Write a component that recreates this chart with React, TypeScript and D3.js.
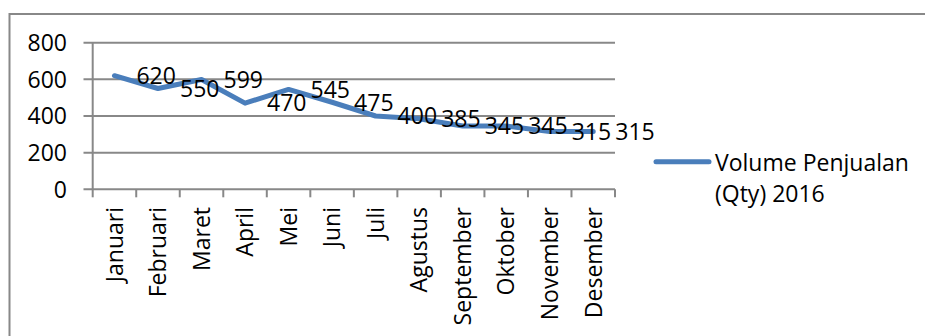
import React from "react";
import * as d3 from "d3";

const months = ["Januari","Februari","Maret","April","Mei","Juni","Juli","Agustus","September","Oktober","November","Desember"];
const values = [620, 550, 599, 470, 545, 475, 400, 385, 345, 345, 315, 315];
const yTicks = [0, 200, 400, 600, 800];
const seriesName = ["Volume Penjualan", "(Qty) 2016"];

const W = 925, H = 336;
const FONT = "'Open Sans', sans-serif";
const FS = 23;
const GRID = "#888888";
const BLUE = "#4A7EBB";

export default function App() {
  const x = d3.scaleBand<string>().domain(months).range([92.7, 615]);
  const y = d3.scaleLinear().domain([0, 800]).range([189.3, 42.7]);
  const cx = (m: string) => (x(m) as number) + x.bandwidth() / 2;
  const line = d3.line<number>().x((_, i) => cx(months[i])).y((v) => y(v));
  const boundaries = months.map((m) => x(m) as number).concat([615]);

  return (
    <svg width={W} height={H} style={{ position: "absolute", left: 0, top: 0, background: "#fff" }} fontFamily={FONT}>
      <rect x={0} y={0} width={W} height={H} fill="#fff" />
      <rect x={9.5} y={14} width={W} height={H} fill="none" stroke={GRID} strokeWidth={2} />
      {yTicks.map((t) => (
        <g key={t}>
          <line x1={83.5} x2={615} y1={y(t)} y2={y(t)} stroke={GRID} strokeWidth={2} />
          <text x={67} y={y(t)} dy="0.36em" textAnchor="end" fontSize={FS} fill="#000">{t}</text>
        </g>
      ))}
      <line x1={92.7} x2={92.7} y1={y(800)} y2={y(0)} stroke={GRID} strokeWidth={2} />
      {boundaries.map((b, i) => (
        <line key={i} x1={b} x2={b} y1={y(0)} y2={y(0) + 8} stroke={GRID} strokeWidth={2} />
      ))}
      {months.map((m) => (
        <text key={m} transform={`translate(${cx(m)},${207}) rotate(-90)`} dy="0.36em" textAnchor="end" fontSize={FS} fill="#000">{m}</text>
      ))}
      <path d={line(values) || ""} fill="none" stroke={BLUE} strokeWidth={5} strokeLinejoin="round" strokeLinecap="round" />
      {values.map((v, i) => (
        <text key={i} x={cx(months[i]) + 22} y={y(v)} dy="0.36em" fontSize={FS} fill="#000">{v}</text>
      ))}
      <line x1={656} x2={709} y1={161.7} y2={161.7} stroke={BLUE} strokeWidth={5} strokeLinecap="round" />
      <text x={715} y={170.7} fontSize={FS} fill="#000">{seriesName[0]}</text>
      <text x={715} y={201.7} fontSize={FS} fill="#000">{seriesName[1]}</text>
    </svg>
  );
}
